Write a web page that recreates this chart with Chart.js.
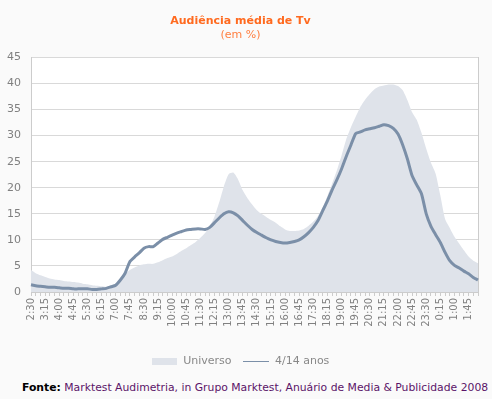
<!DOCTYPE html>
<html>
<head>
<meta charset="utf-8">
<script src="https://cdn.jsdelivr.net/npm/chart.js@4.4.0/dist/chart.umd.min.js"></script>
<style>
body { margin:0; background:#fafafa; width:492px; height:399px; overflow:hidden; position:relative; font-family:'DejaVu Sans', sans-serif; }
#caja { position:absolute; left:0; top:0; width:492px; height:377px; }
#fonte { position:absolute; left:22px; top:381px; font-size:10.8px; color:#5a1468; white-space:nowrap; }
#fonte b { color:#000; }
</style>
</head>
<body>
<div id="caja"><canvas id="grafica"></canvas></div>
<div id="fonte"><b>Fonte:</b> Marktest Audimetria, in Grupo Marktest, Anuário de Media &amp; Publicidade 2008</div>
<script>
//DATOS
const horas = [
  '2:30','2:45','3:00','3:15','3:30','3:45','4:00','4:15','4:30','4:45','5:00','5:15',
  '5:30','5:45','6:00','6:15','6:30','6:45','7:00','7:15','7:30','7:45','8:00','8:15',
  '8:30','8:45','9:00','9:15','9:30','9:45','10:00','10:15','10:30','10:45','11:00','11:15',
  '11:30','11:45','12:00','12:15','12:30','12:45','13:00','13:15','13:30','13:45','14:00','14:15',
  '14:30','14:45','15:00','15:15','15:30','15:45','16:00','16:15','16:30','16:45','17:00','17:15',
  '17:30','17:45','18:00','18:15','18:30','18:45','19:00','19:15','19:30','19:45','20:00','20:15',
  '20:30','20:45','21:00','21:15','21:30','21:45','22:00','22:15','22:30','22:45','23:00','23:15',
  '23:30','23:45','0:00','0:15','0:30','0:45','1:00','1:15','1:30','1:45','2:00','2:15'
];
const universo = [
  4.2, 3.6, 3.2, 2.9, 2.6, 2.4, 2.3, 2.1, 2.0, 1.9, 1.8, 1.6,
  1.5, 1.3, 1.2, 1.1, 1.0, 1.0, 1.3, 2.3, 3.4, 4.2, 4.7, 5.1,
  5.3, 5.4, 5.4, 5.7, 6.1, 6.5, 6.8, 7.3, 7.9, 8.4, 9.0, 9.6,
  10.4, 11.3, 12.6, 14.5, 17.2, 20.3, 22.6, 22.9, 21.6, 19.5, 18.0, 16.8,
  15.7, 15.0, 14.4, 13.8, 13.3, 12.6, 12.0, 11.7, 11.7, 11.8, 12.1, 12.7,
  13.5, 14.6, 16.2, 18.4, 20.8, 23.3, 26.2, 29.3, 31.6, 33.6, 35.5, 36.9,
  38.0, 38.9, 39.4, 39.6, 39.8, 39.8, 39.5, 38.7, 36.8, 34.5, 33.0, 30.5,
  27.5, 24.8, 22.7, 18.5, 14.0, 12.3, 10.6, 9.3, 8.0, 6.8, 6.0, 5.5
];
const anos4a14 = [
  1.4, 1.2, 1.1, 1.0, 0.9, 0.9, 0.8, 0.7, 0.7, 0.6, 0.6, 0.6,
  0.6, 0.5, 0.5, 0.6, 0.7, 1.0, 1.3, 2.3, 3.6, 5.8, 6.7, 7.5,
  8.4, 8.7, 8.7, 9.4, 10.1, 10.5, 10.9, 11.3, 11.6, 11.9, 12.0, 12.1,
  12.1, 12.0, 12.4, 13.3, 14.2, 15.0, 15.4, 15.2, 14.6, 13.7, 12.8, 12.0,
  11.4, 10.9, 10.4, 10.0, 9.7, 9.5, 9.4, 9.5, 9.7, 10.0, 10.6, 11.4,
  12.4, 13.7, 15.6, 17.5, 19.6, 21.5, 23.6, 26.0, 28.2, 30.4, 30.7, 31.1,
  31.3, 31.5, 31.8, 32.1, 31.9, 31.4, 30.3, 28.2, 25.5, 22.3, 20.5, 18.8,
  15.0, 12.6, 11.0, 9.5, 7.6, 6.0, 5.1, 4.6, 4.0, 3.5, 2.8, 2.3
];
const ticksY = [0, 5, 10, 15, 20, 25, 30, 35, 40, 45];
//DATOS

const colorArea = '#dfe3ea';
const colorLinea = '#7b8fa8';

//muestras de la leyenda
function muestra(w, h, color) {
  const c = document.createElement('canvas');
  c.width = w; c.height = h;
  const cx = c.getContext('2d');
  cx.fillStyle = color;
  cx.fillRect(0, 0, w, h);
  return c;
}
const muestraArea = muestra(25, 7, colorArea);
const muestraLinea = muestra(26, 1, colorLinea);

const fondoBlanco = {
  id: 'fondoBlanco',
  beforeDraw(chart) {
    const a = chart.chartArea;
    chart.ctx.save();
    chart.ctx.fillStyle = '#ffffff';
    chart.ctx.fillRect(a.left, a.top, a.right - a.left, a.bottom - a.top);
    chart.ctx.restore();
  }
};

const graph = document.getElementById('grafica');
const chart = new Chart(graph, {
  type: 'line',
  data: {
    labels: horas,
    datasets: [
      {
        label: '4/14 anos',
        data: anos4a14,
        borderColor: colorLinea,
        borderWidth: 3,
        pointRadius: 0,
        fill: false,
        tension: 0.2
      },
      {
        label: 'Universo',
        data: universo,
        borderColor: colorArea,
        backgroundColor: colorArea,
        borderWidth: 0,
        pointRadius: 0,
        fill: 'origin',
        tension: 0.2
      }
    ]
  },
  options: {
    responsive: true,
    maintainAspectRatio: false,
    animation: false,
    layout: { padding: { left: 0, right: 11, top: 9, bottom: 0 } },
    plugins: {
      title: {
        display: true,
        text: 'Audiência média de Tv',
        color: '#ff6a1f',
        font: { family: 'DejaVu Sans', size: 11, weight: 'bold' },
        padding: { top: 6, bottom: 0 }
      },
      subtitle: {
        display: true,
        text: '(em %)',
        color: '#ff7f40',
        font: { family: 'DejaVu Sans', size: 11 },
        padding: { top: 0, bottom: 16 }
      },
      legend: {
        position: 'bottom',
        labels: {
          usePointStyle: true,
          pointStyleWidth: 26,
          boxHeight: 8,
          padding: 12,
          color: '#888888',
          font: { family: 'DejaVu Sans', size: 11 },
          generateLabels: (ch) => {
            const items = Chart.defaults.plugins.legend.labels.generateLabels(ch);
            items.forEach((it) => { it.pointStyle = it.datasetIndex === 1 ? muestraArea : muestraLinea; });
            return items.reverse();
          }
        }
      },
      tooltip: { enabled: false }
    },
    scales: {
      x: {
        offset: false,
        afterFit: (axis) => { axis.height = 52; },
        grid: { display: true, drawOnChartArea: false, tickLength: 4, color: '#cccccc' },
        border: { color: '#cccccc' },
        ticks: {
          autoSkip: false,
          minRotation: 90,
          maxRotation: 90,
          padding: 2,
          color: '#808080',
          font: { family: 'DejaVu Sans', size: 10 },
          callback: (v, i) => (i % 3 === 0 ? horas[i] : '')
        }
      },
      y: {
        min: 0,
        max: 45,
        afterFit: (axis) => { axis.width = 31; },
        afterBuildTicks: (axis) => { axis.ticks = ticksY.map((v) => ({ value: v })); },
        grid: { color: '#d9d9d9', drawTicks: false },
        border: { color: '#cccccc' },
        ticks: {
          padding: 10,
          color: '#808080',
          font: { family: 'DejaVu Sans', size: 11 }
        }
      },
      y2: {
        position: 'right',
        display: true,
        afterFit: (axis) => { axis.width = 0; },
        grid: { display: false },
        border: { color: '#cccccc' },
        ticks: { display: false }
      }
    }
  },
  plugins: [fondoBlanco]
});
</script>
</body>
</html>
